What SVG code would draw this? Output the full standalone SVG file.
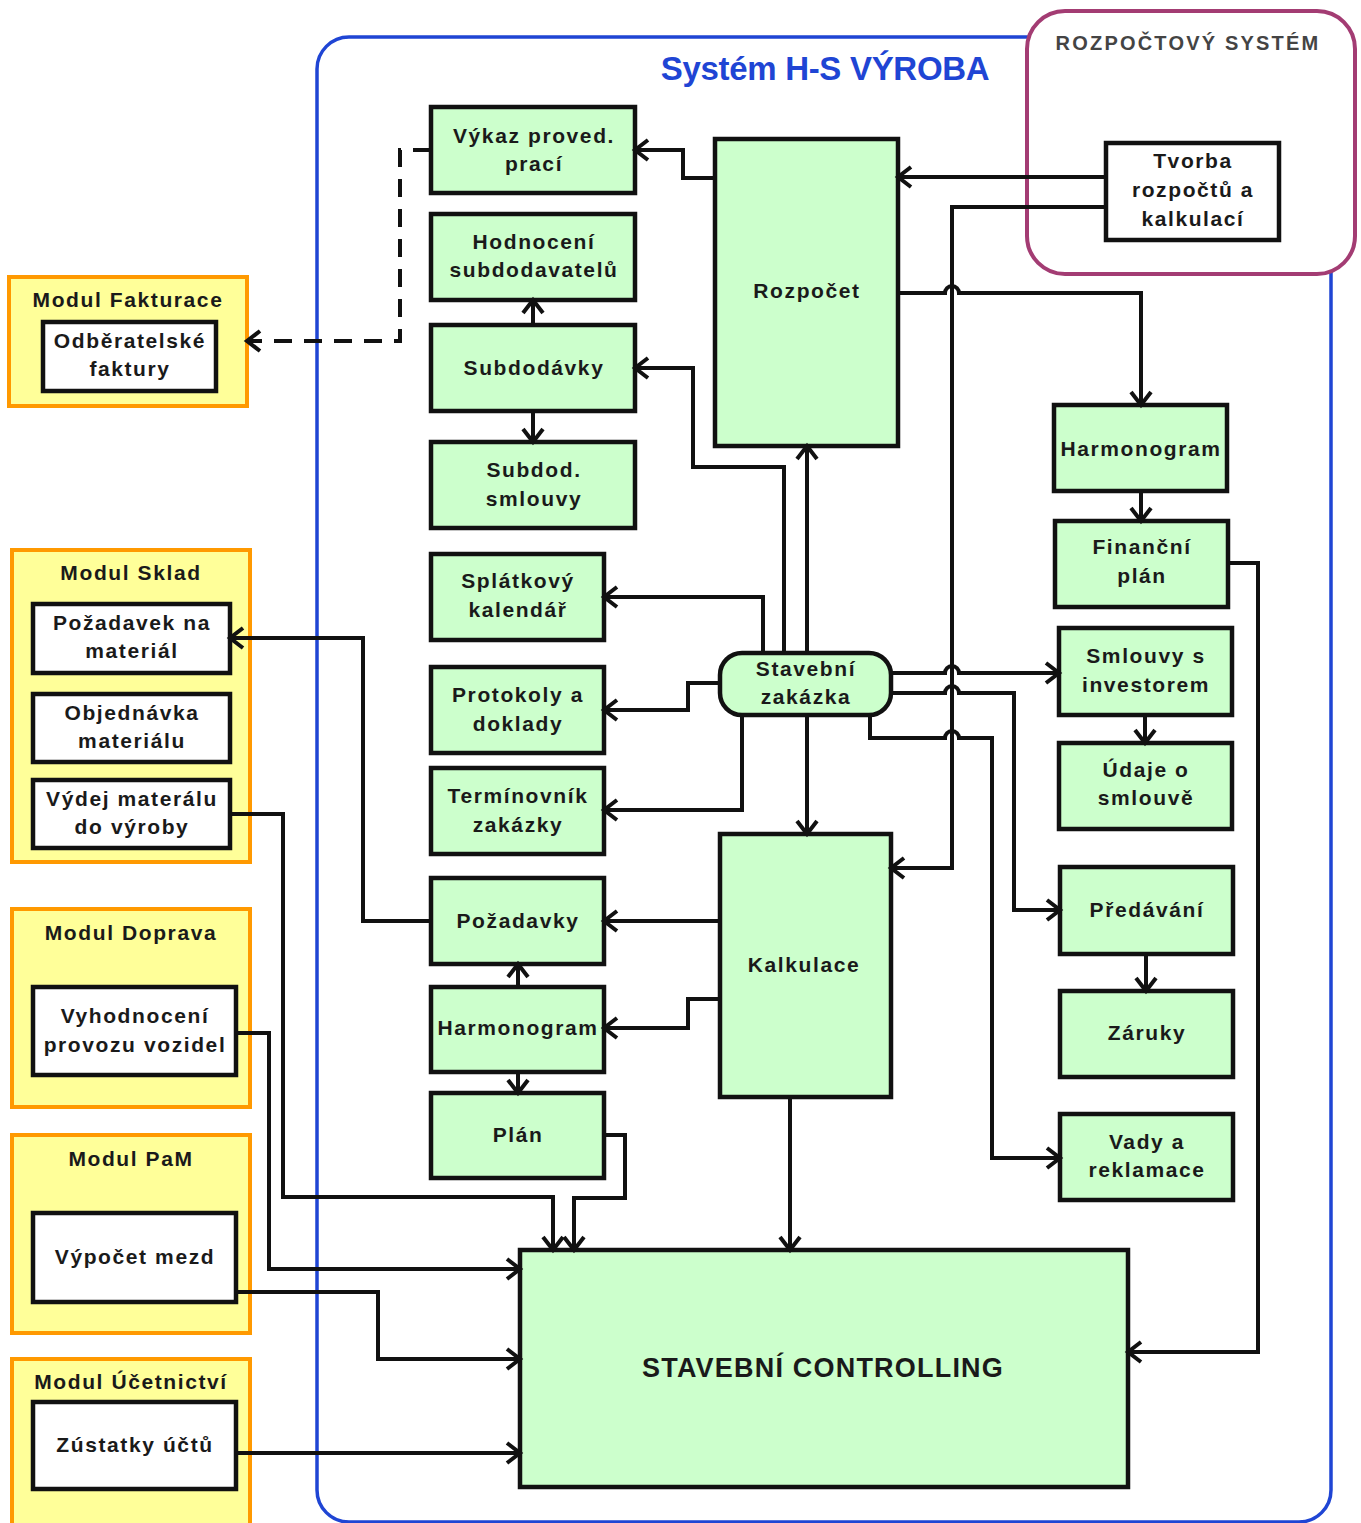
<svg xmlns="http://www.w3.org/2000/svg" width="1361" height="1523" viewBox="0 0 1361 1523">
<style>
text{font-family:"Liberation Sans",Arial,sans-serif;font-weight:bold;text-anchor:middle;fill:#1a1a1a}
.t{font-size:21px;letter-spacing:1.6px}
.g{fill:#CCFFCC;stroke:#111;stroke-width:4.5}
.w{fill:#fff;stroke:#111;stroke-width:4.5}
.m{fill:#FFFF99;stroke:#FF9900;stroke-width:4}
.c{fill:none;stroke:#111;stroke-width:4;stroke-linejoin:miter}
.a{marker-end:url(#arr)}
.d{stroke-dasharray:18 12}
</style>
<defs>
<marker id="arr" markerUnits="userSpaceOnUse" markerWidth="22" markerHeight="26" refX="16" refY="13" orient="auto">
<path d="M3,3 L16,13 L3,23" fill="none" stroke="#111" stroke-width="4" stroke-linejoin="miter"/>
</marker>
</defs>

<g id="container-hs">
<rect x="317" y="37" width="1014" height="1485" rx="32" fill="none" stroke="#1F45D4" stroke-width="3.5"/>
<text x="825" y="80" style="font-size:33px;letter-spacing:-0.3px;fill:#1F45D4">Systém H-S VÝROBA</text>
</g>

<g id="container-rozpoctovy">
<rect x="1027" y="11" width="328" height="263" rx="38" fill="#fff" stroke="#A33C73" stroke-width="4"/>
<text x="1188" y="50" style="font-size:20px;letter-spacing:2.2px;fill:#444">ROZPOČTOVÝ SYSTÉM</text>
</g>

<g id="tvorba"><rect class="w" x="1106" y="143" width="173" height="97"/>
<text class="t" x="1193" y="168">Tvorba</text><text class="t" x="1193" y="197">rozpočtů a</text><text class="t" x="1193" y="226">kalkulací</text></g>

<g id="vykaz"><rect class="g" x="431" y="107" width="204" height="86"/>
<text class="t" x="534" y="143">Výkaz proved.</text><text class="t" x="534" y="171">prací</text></g>
<g id="hodnoceni"><rect class="g" x="431" y="214" width="204" height="86"/>
<text class="t" x="534" y="249">Hodnocení</text><text class="t" x="534" y="277">subdodavatelů</text></g>
<g id="subdodavky"><rect class="g" x="431" y="325" width="204" height="86"/>
<text class="t" x="534" y="375">Subdodávky</text></g>
<g id="subdod-smlouvy"><rect class="g" x="431" y="442" width="204" height="86"/>
<text class="t" x="534" y="477">Subdod.</text><text class="t" x="534" y="506">smlouvy</text></g>
<g id="splatkovy"><rect class="g" x="431" y="554" width="173" height="86"/>
<text class="t" x="518" y="588">Splátkový</text><text class="t" x="518" y="617">kalendář</text></g>
<g id="protokoly"><rect class="g" x="431" y="667" width="173" height="86"/>
<text class="t" x="518" y="702">Protokoly a</text><text class="t" x="518" y="731">doklady</text></g>
<g id="terminovnik"><rect class="g" x="431" y="768" width="173" height="86"/>
<text class="t" x="518" y="803">Termínovník</text><text class="t" x="518" y="832">zakázky</text></g>
<g id="pozadavky"><rect class="g" x="431" y="878" width="173" height="86"/>
<text class="t" x="518" y="928">Požadavky</text></g>
<g id="harmonogram-l"><rect class="g" x="431" y="987" width="173" height="85"/>
<text class="t" x="518" y="1035">Harmonogram</text></g>
<g id="plan"><rect class="g" x="431" y="1093" width="173" height="85"/>
<text class="t" x="518" y="1142">Plán</text></g>

<g id="rozpocet"><rect class="g" x="715" y="139" width="183" height="307"/>
<text class="t" x="807" y="298">Rozpočet</text></g>
<g id="stavebni-zakazka"><rect class="g" x="720" y="653" width="171" height="62" rx="22"/>
<text class="t" x="806" y="676">Stavební</text><text class="t" x="806" y="704">zakázka</text></g>
<g id="kalkulace"><rect class="g" x="720" y="834" width="171" height="263"/>
<text class="t" x="804" y="972">Kalkulace</text></g>

<g id="harmonogram-r"><rect class="g" x="1054" y="405" width="173" height="86"/>
<text class="t" x="1141" y="456">Harmonogram</text></g>
<g id="financni-plan"><rect class="g" x="1055" y="521" width="173" height="86"/>
<text class="t" x="1142" y="554">Finanční</text><text class="t" x="1142" y="583">plán</text></g>
<g id="smlouvy-investor"><rect class="g" x="1059" y="628" width="173" height="87"/>
<text class="t" x="1146" y="663">Smlouvy s</text><text class="t" x="1146" y="692">investorem</text></g>
<g id="udaje"><rect class="g" x="1059" y="743" width="173" height="86"/>
<text class="t" x="1146" y="777">Údaje o</text><text class="t" x="1146" y="805">smlouvě</text></g>
<g id="predavani"><rect class="g" x="1060" y="867" width="173" height="87"/>
<text class="t" x="1147" y="917">Předávání</text></g>
<g id="zaruky"><rect class="g" x="1060" y="991" width="173" height="86"/>
<text class="t" x="1147" y="1040">Záruky</text></g>
<g id="vady"><rect class="g" x="1060" y="1114" width="173" height="86"/>
<text class="t" x="1147" y="1149">Vady a</text><text class="t" x="1147" y="1177">reklamace</text></g>

<g id="controlling"><rect class="g" x="520" y="1250" width="608" height="237"/>
<text x="823" y="1377" style="font-size:27px;letter-spacing:1.2px">STAVEBNÍ CONTROLLING</text></g>

<g id="modul-fakturace"><rect class="m" x="9" y="277" width="238" height="129"/>
<text class="t" x="128" y="307">Modul Fakturace</text>
<rect class="w" x="43" y="322" width="173" height="69"/>
<text class="t" x="130" y="348">Odběratelské</text><text class="t" x="130" y="376">faktury</text></g>

<g id="modul-sklad"><rect class="m" x="12" y="550" width="238" height="312"/>
<text class="t" x="131" y="580">Modul Sklad</text>
<rect class="w" x="33" y="604" width="197" height="69"/>
<text class="t" x="132" y="630">Požadavek na</text><text class="t" x="132" y="658">materiál</text>
<rect class="w" x="33" y="694" width="197" height="68"/>
<text class="t" x="132" y="720">Objednávka</text><text class="t" x="132" y="748">materiálu</text>
<rect class="w" x="33" y="780" width="197" height="68"/>
<text class="t" x="132" y="806">Výdej materálu</text><text class="t" x="132" y="834">do výroby</text></g>

<g id="modul-doprava"><rect class="m" x="12" y="909" width="238" height="198"/>
<text class="t" x="131" y="940">Modul Doprava</text>
<rect class="w" x="33" y="987" width="203" height="88"/>
<text class="t" x="135" y="1023">Vyhodnocení</text><text class="t" x="135" y="1052">provozu vozidel</text></g>

<g id="modul-pam"><rect class="m" x="12" y="1135" width="238" height="198"/>
<text class="t" x="131" y="1166">Modul PaM</text>
<rect class="w" x="33" y="1213" width="203" height="89"/>
<text class="t" x="135" y="1264">Výpočet mezd</text></g>

<g id="modul-ucetnictvi"><rect class="m" x="12" y="1359" width="238" height="175"/>
<text class="t" x="131" y="1389">Modul Účetnictví</text>
<rect class="w" x="33" y="1402" width="203" height="87"/>
<text class="t" x="135" y="1452">Zústatky účtů</text></g>

<g id="connectors">
<path class="c a" d="M1106,177 H898"/>
<path class="c a" d="M1106,207 H952 V868 H891"/>
<path class="c a" d="M898,293 H945 A7,7 0 0 1 959,293 H1141 V405"/>
<path class="c a" d="M715,178 H683 V150 H635"/>
<path class="c a d" d="M431,150 H400 V341 H247"/>
<path class="c a" d="M533,325 V300"/>
<path class="c a" d="M533,411 V442"/>
<path class="c a" d="M784,653 V467 H693 V368 H635"/>
<path class="c a" d="M807,653 V446"/>
<path class="c a" d="M763,653 V597 H604"/>
<path class="c a" d="M720,683 H688 V710 H604"/>
<path class="c a" d="M742,715 V810 H604"/>
<path class="c a" d="M807,715 V834"/>
<path class="c a" d="M891,673 H945 A7,7 0 0 1 959,673 H1059"/>
<path class="c a" d="M891,693 H945 A7,7 0 0 1 959,693 H1014 V910 H1060"/>
<path class="c a" d="M870,715 V738 H945 A7,7 0 0 1 959,738 H992 V1158 H1060"/>
<path class="c a" d="M1145,715 V743"/>
<path class="c a" d="M1141,491 V521"/>
<path class="c a" d="M1146,954 V991"/>
<path class="c a" d="M1228,563 H1258 V1352 H1128"/>
<path class="c a" d="M790,1097 V1250"/>
<path class="c a" d="M720,921 H604"/>
<path class="c a" d="M720,999 H688 V1028 H604"/>
<path class="c a" d="M518,987 V964"/>
<path class="c a" d="M518,1072 V1093"/>
<path class="c a" d="M431,921 H363 V638 H230"/>
<path class="c a" d="M604,1135 H625 V1198 H574 V1250"/>
<path class="c a" d="M230,814 H283 V1197 H553 V1250"/>
<path class="c a" d="M236,1033 H269 V1269 H520"/>
<path class="c a" d="M236,1292 H378 V1359 H520"/>
<path class="c a" d="M236,1453 H520"/>
</g>
</svg>
